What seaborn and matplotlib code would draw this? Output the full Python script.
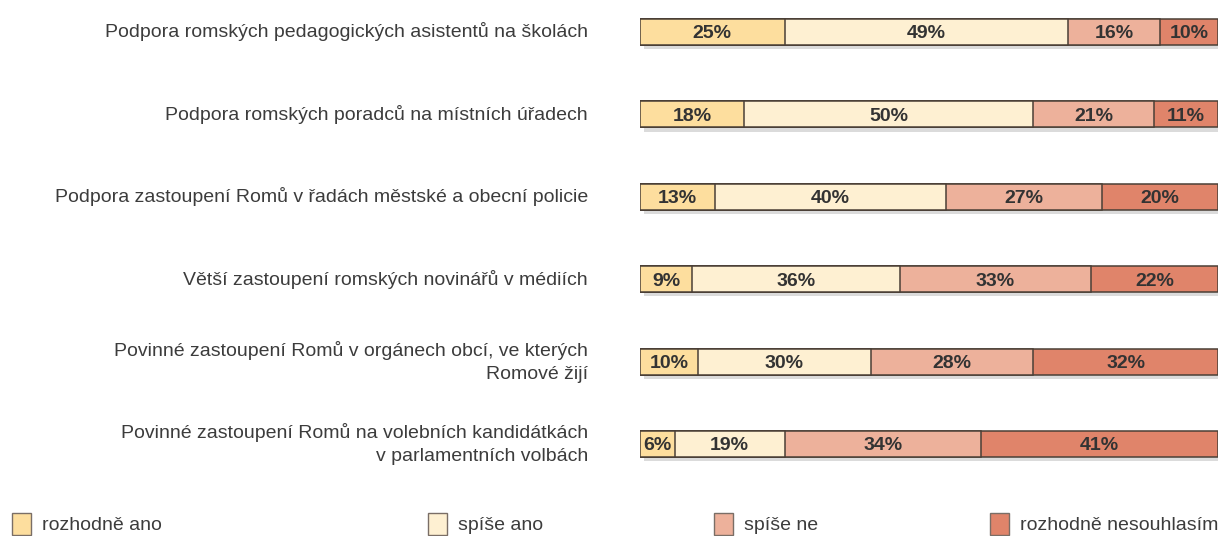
import numpy as np
import pandas as pd
import matplotlib
matplotlib.use('Agg')
import matplotlib.pyplot as plt
import matplotlib.patches as mpatches
import matplotlib.patheffects as pe
from matplotlib.transforms import blended_transform_factory
import seaborn as sns

categories = [
    'Podpora romských pedagogických asistentů na školách',
    'Podpora romských poradců na místních úřadech',
    'Podpora zastoupení Romů v řadách městské a obecní policie',
    'Větší zastoupení romských novinářů v médiích',
    'Povinné zastoupení Romů v orgánech obcí, ve kterých\nRomové žijí',
    'Povinné zastoupení Romů na volebních kandidátkách\nv parlamentních volbách',
]
rozhodne_ano = [25, 18, 13, 9, 10, 6]
spise_ano = [49, 50, 40, 36, 30, 19]
spise_ne = [16, 21, 27, 33, 28, 34]
rozhodne_ne = [10, 11, 20, 22, 32, 41]

series_names = ['rozhodně ano', 'spíše ano', 'spíše ne', 'rozhodně nesouhlasím']
colors = ['#FDDE9E', '#FEF0D2', '#EDB19B', '#E0846A']
edge = '#4a3f36'

df = pd.DataFrame({
    'cat': categories,
    series_names[0]: rozhodne_ano,
    series_names[1]: spise_ano,
    series_names[2]: spise_ne,
    series_names[3]: rozhodne_ne,
})
cum = df[series_names].cumsum(axis=1)
left = cum - df[series_names]

sns.set_style('white')
plt.rcParams['font.family'] = ['Liberation Sans', 'DejaVu Sans']

fig = plt.figure(figsize=(12.2, 5.36), dpi=100)
ax = fig.add_axes([640 / 1220, 60 / 536, 578 / 1220, 476 / 536])

# stacked bars: draw cumulative totals from the full bar down
for i in range(3, -1, -1):
    sns.barplot(x=cum[series_names[i]], y=df['cat'], orient='h', color=colors[i],
                width=0.315, edgecolor=edge, linewidth=1.1, saturation=1, ax=ax)
    if i == 3:
        for p in ax.patches:
            p.set_path_effects([pe.SimplePatchShadow(offset=(3, -3), shadow_rgbFace='#888888', alpha=0.3),
                                pe.Normal()])

for r in range(len(categories)):
    for s in series_names:
        ax.text(left.loc[r, s] + df.loc[r, s] / 2, r, f'{df.loc[r, s]}%', ha='center',
                va='center_baseline', fontsize=14, fontweight='bold', color='#333333')

ax.set_xlim(0, 100)
ax.set_ylim(5 + 32 / 82.4, -32 / 82.4)
ax.axis('off')

tr = blended_transform_factory(fig.transFigure, ax.transData)
for r, c in enumerate(categories):
    ax.text(588 / 1220, r, c, transform=tr, ha='right', va='center', fontsize=14,
            color='#3c3c3c', linespacing=1.45)

leg_x = [-6 / 1220, 410 / 1220, 696 / 1220]
handles = [mpatches.Patch(facecolor=colors[i], edgecolor='#7a6e66', linewidth=1, label=n)
           for i, n in enumerate(series_names)]
for i in range(3):
    fig.legend(handles=[handles[i]], loc='lower left', bbox_to_anchor=(leg_x[i], -0.031), frameon=False,
               fontsize=14, handlelength=1.0, handleheight=1.4, handletextpad=0.55,
               labelcolor='#3c3c3c')
fig.legend(handles=[handles[3]], loc='lower right', bbox_to_anchor=(1.013, -0.031), frameon=False,
           fontsize=14, handlelength=1.0, handleheight=1.4, handletextpad=0.55,
           labelcolor='#3c3c3c')

plt.savefig('out.png', dpi=100)
